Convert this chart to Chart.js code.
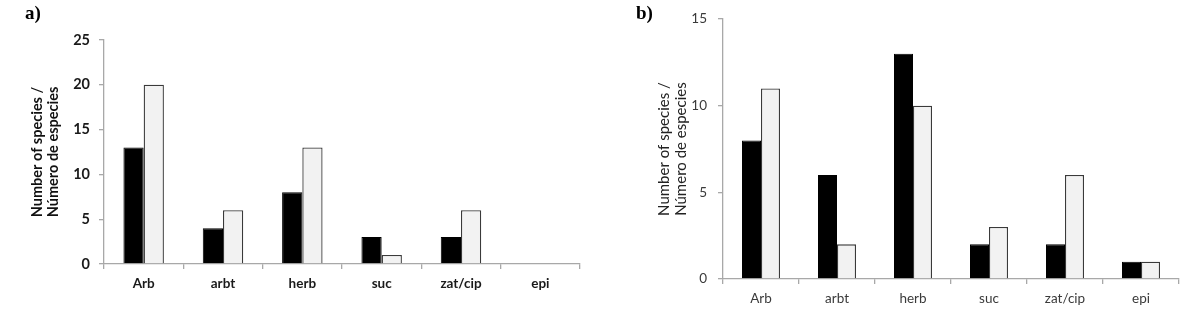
<!DOCTYPE html>
<html>
<head>
<meta charset="utf-8">
<script src="https://cdn.jsdelivr.net/npm/chart.js@4"></script>
<style>
  body { margin: 0; background: #fff; }
  #wrap { position: relative; width: 1188px; height: 312px; overflow: hidden; }
  canvas { position: absolute; top: 0; }
  #chart-a { left: 0; }
  #chart-b { left: 600px; }
  .panel-tag { position: absolute; top: 2px; font: bold 19px "Liberation Serif", serif; color: #000; }
</style>
</head>
<body>
<div id="wrap">
  <canvas id="chart-a" width="594" height="312"></canvas>
  <canvas id="chart-b" width="588" height="312"></canvas>
  <div class="panel-tag" style="left:25px;">a)</div>
  <div class="panel-tag" style="left:636px;">b)</div>
</div>
<script>
// categories and values
const categories = ['Arb', 'arbt', 'herb', 'suc', 'zat/cip', 'epi'];
const blackA = [13, 4, 8, 3, 3, 0];
const whiteA = [20, 6, 13, 1, 6, 0];
const blackB = [8, 6, 13, 2, 2, 1];
const whiteB = [11, 2, 10, 3, 6, 1];
const maxA = 25, maxB = 15, stepY = 5;
const axisTitle = ['Number of species /', 'Número de especies'];

function makeChart(id, black, white, max, o) {
    var ctx = document.getElementById(id).getContext('2d');
    return new Chart(ctx, {
        type: 'bar',
        data: {
            labels: categories,
            datasets: [{
                data: black,
                backgroundColor: '#000000',
                borderColor: '#000000',
                borderWidth: 1
            }, {
                data: white,
                backgroundColor: '#f2f2f2',
                borderColor: '#3a3a3a',
                borderWidth: 1.3
            }]
        },
        options: {
            responsive: false,
            animation: false,
            categoryPercentage: o.catPct,
            barPercentage: 1,
            layout: { padding: o.padding },
            plugins: { legend: { display: false }, tooltip: { enabled: false } },
            scales: {
                x: {
                    afterFit: function (s) { s.height = o.xHeight; },
                    border: { color: '#a8a8a8', width: 1.3 },
                    grid: { offset: true, drawOnChartArea: false, tickLength: 5, color: '#a8a8a8', lineWidth: 1.3 },
                    ticks: { padding: o.xPad, color: o.tickColor, font: { family: 'Lato', size: o.xSize, weight: o.weight } }
                },
                y: {
                    min: 0,
                    max: max,
                    afterFit: function (s) { s.width = o.yWidth; },
                    border: { color: '#a8a8a8', width: 1.3 },
                    grid: { drawOnChartArea: false, tickLength: 5, color: '#a8a8a8', lineWidth: 1.3 },
                    ticks: { stepSize: stepY, padding: o.yPad, color: o.tickColor, font: { family: 'Lato', size: o.ySize, weight: o.weight } },
                    title: {
                        display: true,
                        text: axisTitle,
                        padding: 0,
                        color: o.titleColor,
                        font: { family: 'Lato', size: o.titleSize, weight: o.weight, lineHeight: o.lineHeight }
                    }
                }
            }
        }
    });
}

// a) bold labels
makeChart('chart-a', blackA, whiteA, maxA, {
    catPct: 0.51,
    padding: { left: 29, top: 40, right: 14, bottom: 0 },
    xHeight: 48, yWidth: 75, xPad: 7, yPad: 9,
    xSize: 13.5, ySize: 14.5, titleSize: 14.5,
    tickColor: '#1a1a1a', titleColor: '#111111', weight: 'bold', lineHeight: 16 / 14.5
});

// b) regular labels
makeChart('chart-b', blackB, whiteB, maxB, {
    catPct: 0.5,
    padding: { left: 56, top: 12, right: 9, bottom: 0 },
    xHeight: 33, yWidth: 67, xPad: 7, yPad: 11,
    xSize: 13.5, ySize: 13.5, titleSize: 15,
    tickColor: '#3a3a3a', titleColor: '#222222', weight: 'normal', lineHeight: 17 / 15
});
</script>
</body>
</html>
